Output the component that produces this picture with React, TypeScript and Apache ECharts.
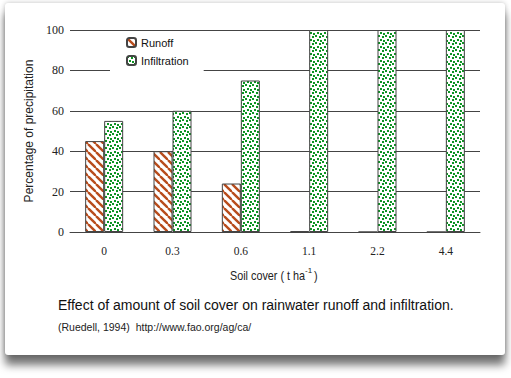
import React, { useEffect, useRef } from "react";
import * as echarts from "echarts";

const categories = ["0", "0.3", "0.6", "1.1", "2.2", "4.4"];
const runoff = [45, 40, 24, 0.4, 0, 0];
const infiltration = [55, 60, 75, 100, 100, 100];
const yTicks = { min: 0, max: 100, interval: 20 };

function stripeTile(): string {
  const c = document.createElement("canvas");
  c.width = 8;
  c.height = 8;
  const ctx = c.getContext("2d")!;
  ctx.fillStyle = "#ffffff";
  ctx.fillRect(0, 0, 8, 8);
  ctx.strokeStyle = "#b84c1c";
  ctx.lineWidth = 2.4;
  for (const x of [-8, 0, 8]) {
    ctx.beginPath();
    ctx.moveTo(x, 0);
    ctx.lineTo(x + 8, 8);
    ctx.stroke();
  }
  return c.toDataURL();
}

function dotTile(): string {
  const c = document.createElement("canvas");
  c.width = 7;
  c.height = 7;
  const ctx = c.getContext("2d")!;
  ctx.fillStyle = "#ffffff";
  ctx.fillRect(0, 0, 7, 7);
  ctx.fillStyle = "#0e9424";
  const pts = [
    [0, 0],
    [4, 1],
    [2, 4],
    [5, 5],
  ];
  for (const [x, y] of pts) ctx.fillRect(x, y, 2, 2);
  return c.toDataURL();
}

export default function App() {
  const ref = useRef<HTMLDivElement>(null);
  useEffect(() => {
    if (!ref.current) return;
    const chart = echarts.init(ref.current, undefined, { renderer: "svg" });
    const stripe = { image: stripeTile(), repeat: "repeat" } as any;
    const dots = { image: dotTile(), repeat: "repeat" } as any;
    chart.setOption({
      animation: false,
      grid: { left: 70, right: 31, top: 30, bottom: 146, containLabel: false },
      legend: {
        orient: "vertical",
        left: 110,
        top: 34,
        itemWidth: 9,
        itemHeight: 9,
        itemGap: 7,
        padding: [3, 15, 5, 16],
        backgroundColor: "#ffffff",
        textStyle: { fontFamily: "Liberation Sans, Arial, sans-serif", fontSize: 11, color: "#111" },
        data: ["Runoff", "Infiltration"],
      },
      xAxis: {
        type: "category",
        data: categories,
        axisLine: { show: true, lineStyle: { color: "#444", width: 1 } },
        axisTick: { show: false },
        axisLabel: { fontFamily: "Liberation Serif, serif", fontSize: 11.5, color: "#222", margin: 13 },
      },
      yAxis: {
        type: "value",
        min: yTicks.min,
        max: yTicks.max,
        interval: yTicks.interval,
        name: "Percentage of precipitation",
        nameLocation: "middle",
        nameGap: 34,
        nameTextStyle: { fontFamily: "Liberation Sans, Arial, sans-serif", fontSize: 12, color: "#222" },
        axisLine: { show: false },
        axisTick: { show: false },
        axisLabel: { fontFamily: "Liberation Serif, serif", fontSize: 12, color: "#222", margin: 6 },
        splitLine: { show: true, lineStyle: { color: "#444", width: 1 } },
      },
      series: [
        {
          name: "Runoff",
          type: "bar",
          data: runoff,
          barWidth: 19,
          barGap: "0%",
          itemStyle: { color: stripe, borderColor: "#444", borderWidth: 1 },
        },
        {
          name: "Infiltration",
          type: "bar",
          data: infiltration,
          barWidth: 19,
          itemStyle: { color: dots, borderColor: "#444", borderWidth: 1 },
        },
      ],
      graphic: [
        {
          type: "text",
          x: 230,
          y: 276,
          scaleX: 0.9,
          style: {
            text: "Soil cover ( t ha",
            font: "12px 'Liberation Sans', sans-serif",
            fill: "#222",
            verticalAlign: "middle",
          },
        },
        {
          type: "text",
          x: 305,
          y: 270,
          style: {
            text: "-1",
            font: "8px 'Liberation Sans', sans-serif",
            fill: "#222",
            verticalAlign: "middle",
          },
        },
        {
          type: "text",
          x: 311,
          y: 276,
          scaleX: 0.9,
          style: {
            text: " )",
            font: "12px 'Liberation Sans', sans-serif",
            fill: "#222",
            verticalAlign: "middle",
          },
        },
        {
          type: "text",
          x: 58,
          y: 305,
          style: {
            text: "Effect of amount of soil cover on rainwater runoff and infiltration.",
            font: "14px 'Liberation Sans', Arial, sans-serif",
            fill: "#111",
            verticalAlign: "middle",
          },
        },
        {
          type: "text",
          x: 58,
          y: 327,
          style: {
            text: "(Ruedell, 1994)  http://www.fao.org/ag/ca/",
            font: "10.5px 'Liberation Sans', Arial, sans-serif",
            fill: "#222",
            verticalAlign: "middle",
          },
        },
      ],
    });
    return () => chart.dispose();
  }, []);

  return (
    <div style={{ position: "fixed", left: 0, top: 0, width: 511, height: 378, background: "#ffffff", overflow: "hidden" }}>
      <div
        style={{
          position: "absolute",
          left: 5,
          top: 3,
          width: 500,
          height: 352,
          background: "#ffffff",
          borderRadius: 3,
          boxShadow: "0 10px 8px rgba(0,0,0,0.55), 0 0 5px rgba(0,0,0,0.25)",
        }}
      />
      <div ref={ref} style={{ position: "absolute", left: 0, top: 0, width: 511, height: 378 }} />
    </div>
  );
}
